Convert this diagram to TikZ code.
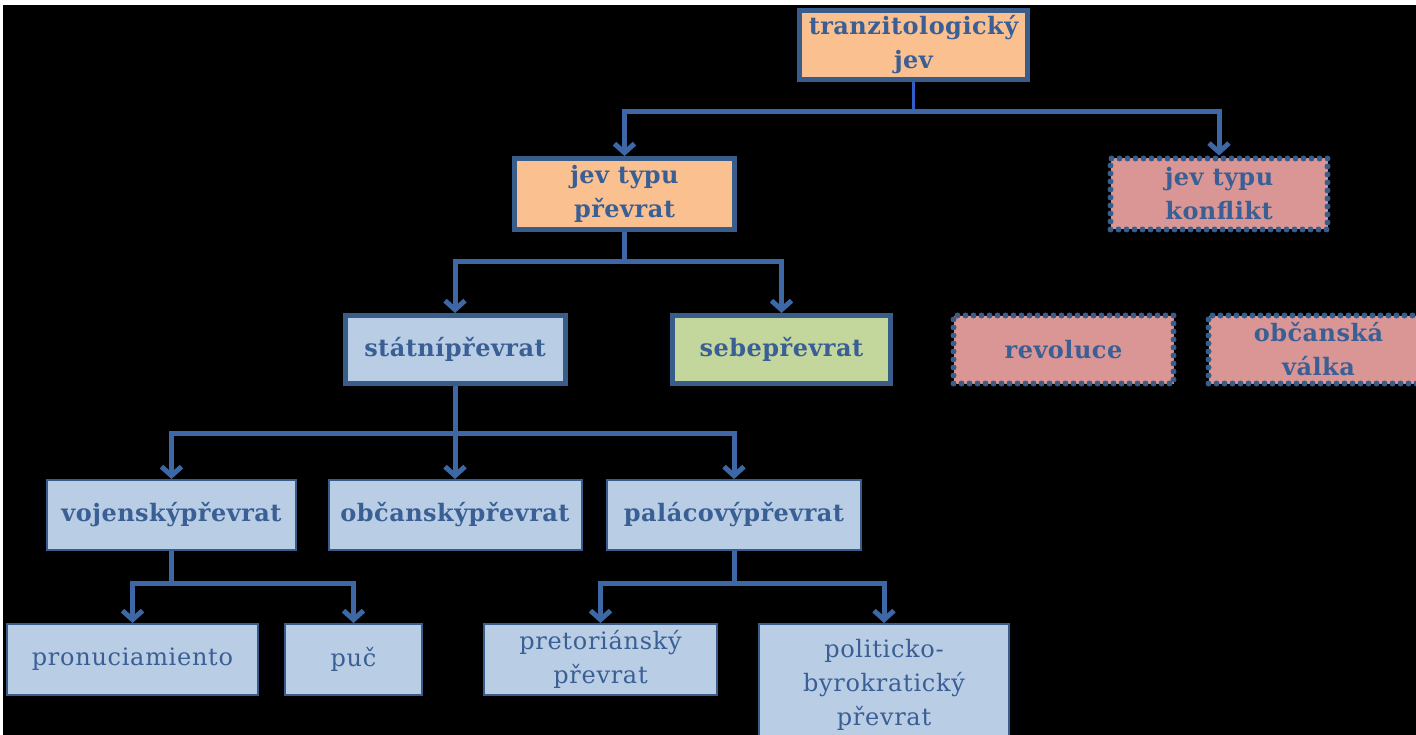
\documentclass[tikz,border=0pt]{standalone}
\usepackage{fontspec}
\setmainfont{DejaVu Serif}
\usetikzlibrary{arrows.meta}
\definecolor{edgeblue}{HTML}{385D8A}
\definecolor{linkblue}{HTML}{3D68A5}
\definecolor{stubblue}{HTML}{2F5FC8}
\definecolor{txtblue}{HTML}{3A5F95}
\definecolor{peach}{HTML}{FAC090}
\definecolor{rose}{HTML}{D99694}
\definecolor{paleblue}{HTML}{B9CDE5}
\definecolor{sage}{HTML}{C3D69B}
\tikzset{
  x=1pt, y=-1pt,
  box/.style={rectangle, inner sep=0pt, align=center, text=txtblue,
    font=\fontsize{24}{34}\selectfont\bfseries\addfontfeatures{LetterSpace=2}},
  thickbox/.style={box, draw=edgeblue, line width=5pt},
  dotbox/.style={box, draw=edgeblue, line width=6pt, line cap=round,
    dash pattern=on 0pt off 8pt, fill=rose},
  thinbox/.style={box, draw=edgeblue, line width=2pt, fill=paleblue},
  leafbox/.style={thinbox, font=\fontsize{24}{34}\selectfont\addfontfeatures{LetterSpace=3}},
  link/.style={draw=linkblue, line width=5pt,
    -{Straight Barb[length=9pt,width=20pt]}},
  bus/.style={draw=linkblue, line width=5pt},
  stub/.style={draw=stubblue, line width=3pt},
}
\begin{document}
\begin{tikzpicture}
\useasboundingbox (0,0) rectangle (1416,735);
\clip (0,0) rectangle (1416,735);
\fill[white] (0,0) rectangle (1416,735);
\fill[black] (3,5) rectangle (1416,735);

% first level
\node[thickbox, fill=peach, minimum width=228pt, minimum height=69pt]
  (top) at (913.5,45) {tranzitologický\\jev};

% second level
\node[thickbox, fill=peach, minimum width=220pt, minimum height=71pt]
  (jp) at (624.5,194) {jev typu\\převrat};
\node[dotbox, minimum width=217pt, minimum height=71pt]
  (jk) at (1219,194) {jev typu\\konflikt};

% third level
\node[thickbox, fill=paleblue, minimum width=220pt, minimum height=68pt]
  (stat) at (455,349.5) {státnípřevrat};
\node[thickbox, fill=sage, minimum width=218pt, minimum height=68pt]
  (sebe) at (781.5,349.5) {sebepřevrat};
\node[dotbox, minimum width=220pt, minimum height=68pt]
  (rev) at (1063.5,349.5) {revoluce};
\node[dotbox, minimum width=220pt, minimum height=68pt]
  (ov) at (1318.5,349.5) {občanská\\válka};

% fourth level
\node[thinbox, minimum width=249pt, minimum height=70pt]
  (voj) at (171.5,515) {vojenskýpřevrat};
\node[thinbox, minimum width=253pt, minimum height=70pt]
  (obc) at (455,515) {občanskýpřevrat};
\node[thinbox, minimum width=254pt, minimum height=70pt]
  (pal) at (734,515) {palácovýpřevrat};

% fifth level
\node[leafbox, minimum width=251pt, minimum height=71pt]
  (pron) at (132.5,659.5) {pronuciamiento};
\node[leafbox, minimum width=137pt, minimum height=71pt]
  (puc) at (353.5,659.5) {puč};
\node[leafbox, minimum width=233pt, minimum height=71pt]
  (pret) at (600.5,659.5) {pretoriánský\\převrat};
\node[leafbox, minimum width=250pt, minimum height=122pt]
  (pol) at (884,685) {politicko-\\byrokratický\\převrat};

% connectors
\draw[stub] (top.south) -- ++(0,30) coordinate (b1);
\draw[link] (b1) -| (jp.north);
\draw[link] (b1) -| (jk.north);

\draw[bus] (jp.south) -- ++(0,30) coordinate (b2);
\draw[link] (b2) -| (stat.north);
\draw[link] (b2) -| (sebe.north);

\draw[bus] (stat.south) -- ++(0,47) coordinate (b3);
\draw[link] (b3) -| (voj.north);
\draw[link] (b3) -- (obc.north);
\draw[link] (b3) -| (pal.north);

\draw[bus] (voj.south) -- ++(0,32) coordinate (b4);
\draw[link] (b4) -| (pron.north);
\draw[link] (b4) -| (puc.north);

\draw[bus] (pal.south) -- ++(0,32) coordinate (b5);
\draw[link] (b5) -| (pret.north);
\draw[link] (b5) -| (pol.north);
\end{tikzpicture}
\end{document}
